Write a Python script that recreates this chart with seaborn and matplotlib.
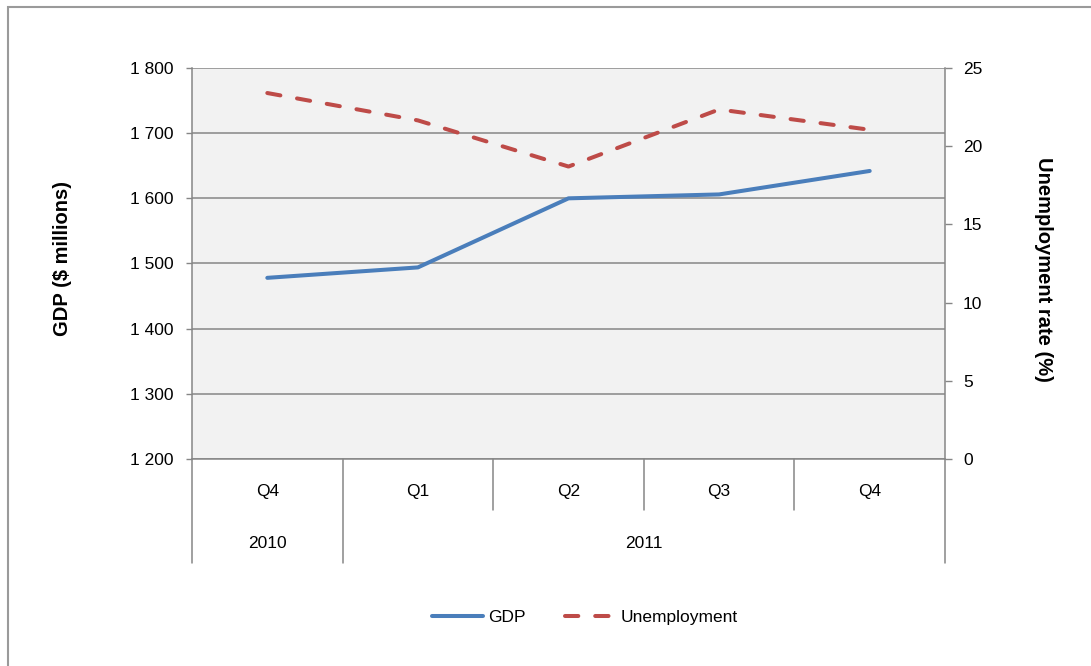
import matplotlib
matplotlib.use("Agg")
import matplotlib.pyplot as plt
import seaborn as sns
import pandas as pd
import numpy as np
from matplotlib.patches import Rectangle

# values
quarters = ["Q4", "Q1", "Q2", "Q3", "Q4"]
years = ["2010", "2011", "2011", "2011", "2011"]
gdp = [1478, 1494, 1600, 1606, 1642]
unemployment = [23.4, 21.65, 18.7, 22.35, 21.05]
gdp_ticks = [1200, 1300, 1400, 1500, 1600, 1700, 1800]
rate_ticks = [0, 5, 10, 15, 20, 25]

sns.set_style("white")
plt.rcParams["font.family"] = ["Liberation Sans", "DejaVu Sans"]
plt.rcParams["text.color"] = "black"
plt.rcParams["xtick.labelcolor"] = "black"
plt.rcParams["ytick.labelcolor"] = "black"

df = pd.DataFrame({"pos": np.arange(len(quarters)), "quarter": quarters,
                   "year": years, "gdp": gdp, "unemployment": unemployment})

blue = "#4A7EBB"
red = "#BE4B48"
grey = "#868686"

fig = plt.figure(figsize=(10.91, 6.66), dpi=100)
ax = fig.add_axes([192 / 1091, 1 - 459 / 666, 753 / 1091, 391 / 666])
ax2 = ax.twinx()

sns.lineplot(data=df, x="pos", y="gdp", ax=ax, color=blue, lw=2.9,
             label="GDP", legend=False, solid_capstyle="round")
sns.lineplot(data=df, x="pos", y="unemployment", ax=ax2, color=red, lw=2.9,
             label="Unemployment", legend=False, dashes=False)
ax2.lines[0].set_dashes([3.3, 4.2])
ax2.lines[0].set_dash_capstyle("round")

ax.set_xlim(-0.5, len(df) - 0.5)
ax.set_ylim(gdp_ticks[0], gdp_ticks[-1])
ax2.set_ylim(rate_ticks[0], rate_ticks[-1])
ax.set_yticks(gdp_ticks)
ax.set_yticklabels([f"{v:,}".replace(",", " ") for v in gdp_ticks])
ax2.set_yticks(rate_ticks)
ax.set_xticks([])
ax.set_xlabel("")
ax.set_ylabel("")
ax2.set_ylabel("")

ax.set_facecolor("#F2F2F2")
ax.set_axisbelow(True)
ax.yaxis.grid(True, color=grey, lw=1.1)
ax.tick_params(axis="y", length=4.5, width=1, color=grey, pad=9, labelsize=12.5,
               labelcolor="black")
ax2.tick_params(axis="y", length=5, width=1, color=grey, pad=8, labelsize=12.5,
                labelcolor="black")
for s in ["top", "right"]:
    ax.spines[s].set_visible(False)
for s in ["left", "bottom"]:
    ax.spines[s].set_color(grey)
for s in ["top", "bottom", "left"]:
    ax2.spines[s].set_visible(False)
ax2.spines["right"].set_color(grey)
for a in (ax, ax2):
    for s in a.spines.values():
        s.set_linewidth(1.1)

# two-level category axis
tr = ax.get_xaxis_transform()
for p, q in zip(df["pos"], df["quarter"]):
    ax.text(p, -0.082, q, transform=tr, ha="center", va="center", fontsize=12.5)
for y, grp in df.groupby("year"):
    ax.text(grp["pos"].mean(), -0.215, y, transform=tr, ha="center", va="center",
            fontsize=12.5)
edges = np.arange(len(df) + 1) - 0.5
year_breaks = {-0.5, len(df) - 0.5}
for i in range(1, len(df)):
    if df["year"][i] != df["year"][i - 1]:
        year_breaks.add(i - 0.5)
for e in edges:
    low = -0.266 if e in year_breaks else -0.13
    ax.plot([e, e], [0, low], transform=tr, color=grey, lw=1.1, clip_on=False)

fig.text(62 / 1091, 1 - 258 / 666, "GDP ($ millions)", rotation=90, ha="center",
         va="center", fontsize=14.5, fontweight="bold")
fig.text(1043 / 1091, 1 - 269 / 666, "Unemployment rate (%)", rotation=270,
         ha="center", va="center", fontsize=14.5, fontweight="bold")

handles = [ax.lines[0], ax2.lines[0]]
fig.legend(handles, ["GDP", "Unemployment"], loc="center",
           bbox_to_anchor=(585 / 1091, 1 - 617 / 666), ncol=2, frameon=False,
           fontsize=12.5, handlelength=2.9, handletextpad=0.3, columnspacing=2.3)

fig.patches.append(Rectangle((8 / 1091, -0.1), 1.2, 1.1 - 7 / 666,
                             transform=fig.transFigure, fill=False,
                             edgecolor="#9A9A9A", lw=1.5))

fig.savefig("out.png", dpi=100)
